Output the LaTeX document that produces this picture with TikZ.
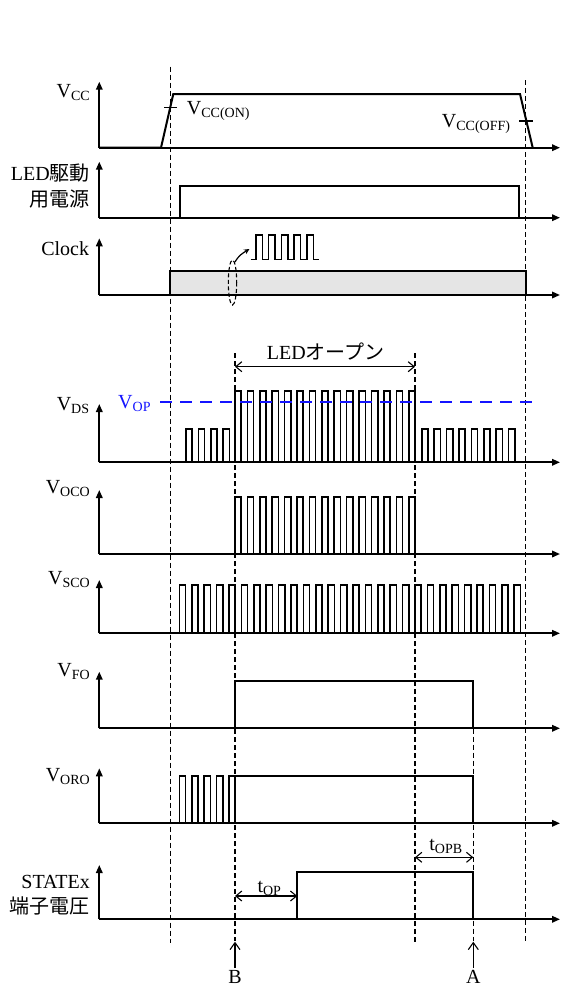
\documentclass[tikz,border=0pt]{standalone}
\usepackage{fontspec}
\setmainfont{Liberation Serif}
\newfontfamily\jp{Noto Sans CJK JP}
\usetikzlibrary{arrows.meta}
\newcommand\sbs[1]{\raisebox{-3pt}{\fontsize{14}{14}\selectfont #1}}
% x0, period, high width, count, ybase, ytop
\newcommand\pulsetrain[6]{%
  \draw[pulse] (#1,#5) \foreach \k in {1,...,#4}{ -- ({#1+(\k-1)*#2},#5) -- ({#1+(\k-1)*#2},#6) -- ({#1+(\k-1)*#2+#3},#6) -- ({#1+(\k-1)*#2+#3},#5) };}
\definecolor{opblue}{RGB}{20,20,255}
\begin{document}
\begin{tikzpicture}[x=1pt,y=-1pt,
  lbl/.style={inner sep=0pt,font=\fontsize{20}{24}\selectfont},
  axis/.style={line width=1.8pt,-{Triangle[length=8pt,width=6.5pt]}},
  sig/.style={line width=2pt,line join=miter},
  pulse/.style={line width=1.6pt,line join=miter},
  vdash/.style={line width=1.1pt,dash pattern=on 5pt off 3pt},
  dim/.style={line width=1.1pt,{Straight Barb[length=6pt,width=10pt]}-{Straight Barb[length=6pt,width=10pt]}},
  marker/.style={line width=1.1pt,-{Straight Barb[length=7pt,width=10pt]}}]
\useasboundingbox (0,0) rectangle (564,990);

% ---------- vertical dashed guide lines ----------
\draw[vdash] (170.7,66.7) -- (170.7,943);
\draw[vdash] (525.7,80) -- (525.7,943);
\draw[vdash] (235,353.3) -- (235,941);
\draw[vdash] (415,353.3) -- (415,943);
\draw[vdash] (473.3,680.7) -- (473.3,941);

% ---------- V_CC ----------
\draw[axis] (99.3,147.7) -- (99.3,81.7);
\draw[axis] (99.3,147.7) -- (560,147.7);
\draw[sig] (99.3,147.7) -- (161,147.7) -- (173.3,94) -- (520,94) -- (532.7,147.7);
\draw[line width=1.4pt] (164.3,107.7) -- (176.7,107.7);
\draw[line width=1.4pt] (519,121) -- (532.7,121);
\node[lbl,anchor=base east] (lvcc) at (90,97.3) {V\sbs{CC}};
\node[lbl,anchor=base west] (lvccon) at (186.7,114) {V\sbs{CC(ON)}};
\node[lbl,anchor=base west] (lvccoff) at (441.7,127) {V\sbs{CC(OFF)}};

% ---------- LED drive supply ----------
\draw[axis] (99.3,217.7) -- (99.3,161.7);
\draw[axis] (99.3,217.7) -- (560,217.7);
\draw[sig] (180,217.7) -- (180,185.7) -- (519.3,185.7) -- (519.3,217.7);
\node[lbl,anchor=base east] (lled1) at (90,180.7) {LED{\jp 駆動}};
\node[lbl,anchor=base east] (lled2) at (90,206) {{\jp 用電源}};

% ---------- Clock ----------
\draw[axis] (99.3,295) -- (99.3,238.3);
\draw[sig,fill=black!10] (170,295) rectangle (525.7,271);
\draw[axis] (99.3,295) -- (560,295);
\node[lbl,anchor=base east] (lclk) at (89.3,255) {Clock};
\draw[line width=1.1pt,dash pattern=on 4pt off 2.5pt] (232.5,282.5) ellipse [x radius=4.2, y radius=22.5];
\coordinate (elltop) at (235,262);
\coordinate (zoomst) at (249.5,249);
\draw[line width=1.2pt,-{Stealth[length=5.5pt,width=5pt]}] (elltop) .. controls (239,255) and (243,253) .. (zoomst);
\draw[line width=1.4pt,line join=miter] (250.7,259.3) -- (256,259.3)
  \foreach \k in {0,...,4}{ -- ({256+\k*12.7},259.3) -- ({256+\k*12.7},235) -- ({262.4+\k*12.7},235) -- ({262.4+\k*12.7},259.3) } -- (319.3,259.3);

% ---------- LED open ----------
\coordinate (ledL) at (235,366.7);
\coordinate (ledR) at (415,366.7);
\draw[dim] (ledL) -- (ledR);
\node[lbl,anchor=base] (lledopen) at (325.8,359) {LED{\jp オープン}};

% ---------- V_DS ----------
\draw[axis] (99.3,462.3) -- (99.3,404);
\draw[axis] (99.3,462.3) -- (560,462.3);
\pulsetrain{186}{12.4}{6.2}{4}{462.3}{429}
\pulsetrain{235}{12.41}{6.2}{15}{462.3}{390.7}
\pulsetrain{421.7}{12.4}{6.2}{8}{462.3}{429}
\draw[draw=opblue,line width=1.8pt,dash pattern=on 12pt off 8pt] (160,401.7) -- (533,401.7);
\node[lbl,anchor=base east] (lvds) at (89.3,410) {V\sbs{DS}};
\node[lbl,anchor=base west,text=opblue] (lvop) at (118,408) {V\sbs{OP}};

% ---------- V_OCO ----------
\draw[axis] (99.3,554) -- (99.3,490);
\draw[axis] (99.3,554) -- (560,554);
\pulsetrain{235}{12.41}{6.2}{15}{554}{496.7}
\node[lbl,anchor=base east] (lvoco) at (90,493) {V\sbs{OCO}};

% ---------- V_SCO ----------
\draw[axis] (99.3,633.3) -- (99.3,580);
\draw[axis] (99.3,633.3) -- (560,633.3);
\pulsetrain{179.3}{12.4}{6.2}{28}{633.3}{585}
\node[lbl,anchor=base east] (lvsco) at (90,584) {V\sbs{SCO}};

% ---------- V_FO ----------
\draw[axis] (99.3,728.3) -- (99.3,671.7);
\draw[axis] (99.3,728.3) -- (560,728.3);
\draw[sig] (235,728.3) -- (235,680.7) -- (473.3,680.7) -- (473.3,728.3);
\node[lbl,anchor=base east] (lvfo) at (90,676) {V\sbs{FO}};

% ---------- V_ORO ----------
\draw[axis] (99.3,823.3) -- (99.3,768.3);
\draw[axis] (99.3,823.3) -- (560,823.3);
\pulsetrain{179.3}{12.4}{6.2}{5}{823.3}{776}
\draw[sig] (235,823.3) -- (235,776) -- (473.3,776) -- (473.3,823.3);
\node[lbl,anchor=base east] (lvoro) at (90,781) {V\sbs{ORO}};

% ---------- STATEx ----------
\coordinate (opbL) at (415,857.3);
\coordinate (opbR) at (473.3,857.3);
\draw[dim] (opbL) -- (opbR);
\node[lbl,anchor=base] (ltopb) at (445.8,850) {t\sbs{OPB}};
\draw[axis] (99.3,919.3) -- (99.3,865);
\draw[axis] (99.3,919.3) -- (560,919.3);
\draw[sig] (297.3,919.3) -- (297.3,871.7) -- (473.3,871.7) -- (473.3,919.3);
\coordinate (opL) at (235,896);
\coordinate (opR) at (297.3,896);
\draw[dim] (opL) -- (opR);
\node[lbl,anchor=base] (ltop) at (269.3,892) {t\sbs{OP}};
\node[lbl,anchor=base east] (lst1) at (90,888) {STATEx};
\node[lbl,anchor=base east] (lst2) at (90,913) {{\jp 端子電圧}};

% ---------- markers B and A ----------
\node[lbl,anchor=base] (B) at (235,983.3) {B};
\node[lbl,anchor=base] (A) at (473.3,983.3) {A};
\coordinate (Btip) at (235,941.7);
\coordinate (Atip) at (473.3,941.7);
\draw[marker] (B.north) ++(0,-2) -- (Btip);
\draw[marker] (A.north) ++(0,-2) -- (Atip);
\end{tikzpicture}
\end{document}
